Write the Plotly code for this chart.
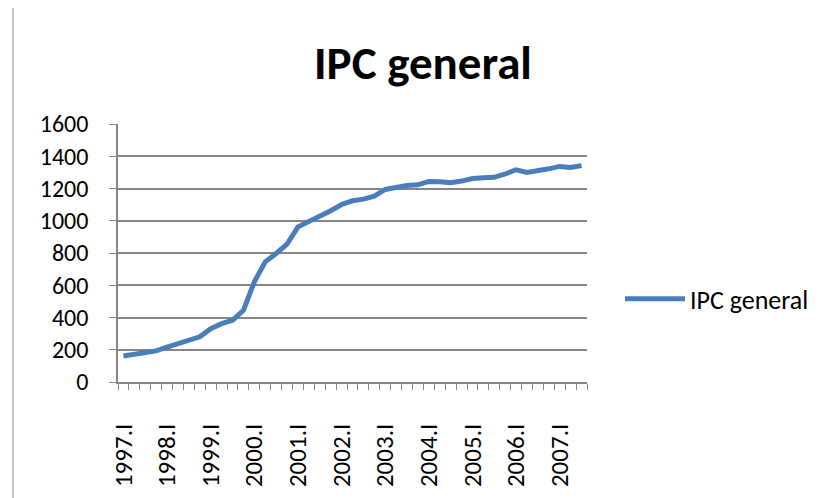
import plotly.graph_objects as go

years = list(range(1997, 2008))
roman = ["I", "II", "III", "IV"]
quarters = [f"{y}.{r}" for y in years for r in roman][:43]  # 1997.I .. 2007.III

ipc_general = [161, 172, 180, 193, 217, 238, 257, 280, 331, 362, 383,
               445, 621, 745, 797, 855, 962, 993, 1024, 1062, 1101, 1124,
               1134, 1153, 1194, 1207, 1219, 1223, 1244, 1242, 1236, 1246,
               1262, 1267, 1269, 1290, 1316, 1300, 1308, 1322, 1337, 1331, 1342]

tick_text = [q if q.endswith(".I") else "" for q in quarters]

FONT = "Calibri, Carlito, Lato, sans-serif"
GRID = "#868686"
L, T, PW, PH = 110, 116, 469, 258

fig = go.Figure()
fig.add_trace(go.Scatter(
    x=quarters, y=ipc_general, mode="lines", name="IPC general",
    line=dict(color="#4A7EBB", width=5),
))

fig.update_layout(
    width=825, height=498,
    margin=dict(l=L, r=825 - L - PW, t=T, b=498 - T - PH, autoexpand=False),
    paper_bgcolor="white", plot_bgcolor="white",
    font=dict(family=FONT, size=25, color="black"),
    title=dict(text="<b>IPC general</b>", x=415 / 825, xanchor="center",
               y=1 - 55 / 498, yanchor="middle", yref="container",
               font=dict(family=FONT, size=47, color="black")),
    showlegend=True,
    legend=dict(x=(612 - L) / PW, xanchor="left", y=0.322, yanchor="middle",
                font=dict(family=FONT, size=26, color="black"),
                itemwidth=60, bgcolor="rgba(0,0,0,0)"),
    shapes=[
        dict(type="line", xref="paper", yref="paper", x0=(5 - L) / PW, x1=(5 - L) / PW,
             y0=-1, y1=2, line=dict(color="#8c8c8c", width=1)),
    ],
)

fig.update_xaxes(
    type="category", categoryorder="array", categoryarray=quarters,
    tickmode="array", tickvals=quarters, ticktext=tick_text,
    tickson="boundaries", ticks="outside", ticklen=6, tickcolor=GRID,
    tickangle=-90, ticklabelstandoff=30,
    showline=True, linecolor=GRID, linewidth=1.5,
    showgrid=False, zeroline=False,
    range=[-0.5, 42.5], automargin=False,
    tickfont=dict(family=FONT, size=25, color="black"),
)
fig.update_yaxes(
    range=[0, 1600], dtick=200, tick0=0,
    ticks="outside", ticklen=7, tickcolor=GRID,
    showline=True, linecolor=GRID, linewidth=1.5,
    showgrid=True, gridcolor=GRID, gridwidth=1.5,
    zeroline=False, automargin=False, ticklabelstandoff=16,
    tickfont=dict(family=FONT, size=24, color="black"),
)

fig.write_html("out.html")
